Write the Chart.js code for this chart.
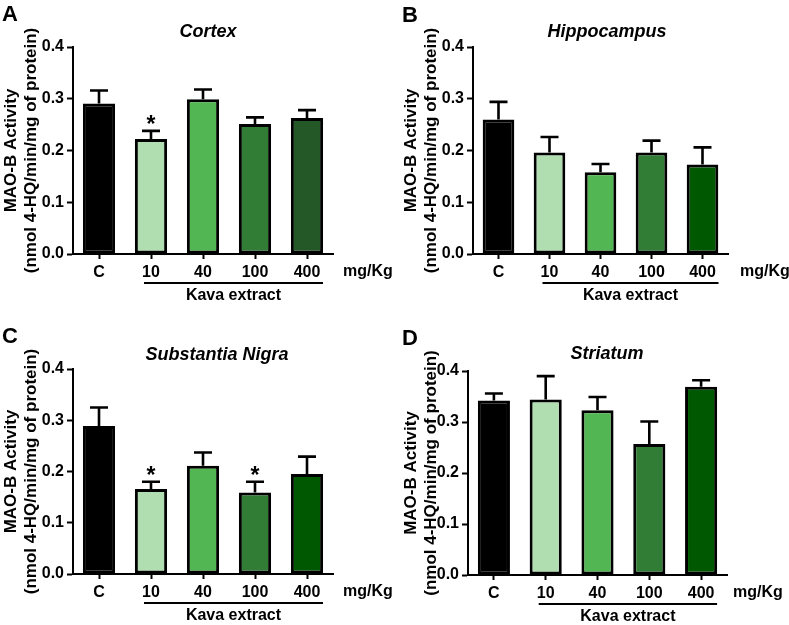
<!DOCTYPE html>
<html>
<head>
<meta charset="utf-8">
<script src="https://cdn.jsdelivr.net/npm/chart.js@4"></script>
<style>
  html, body { margin: 0; padding: 0; background: #fff; }
  body { width: 789px; height: 625px; position: relative; overflow: hidden; }
  canvas { position: absolute; }
</style>
</head>
<body>
<canvas id="cA" width="395" height="311"></canvas>
<canvas id="cB" width="389" height="311"></canvas>
<canvas id="cC" width="395" height="313"></canvas>
<canvas id="cD" width="389" height="313"></canvas>
<script>
// ---- data ----
const categories = ['C', '10', '40', '100', '400'];
const yTickValues = [0.0, 0.1, 0.2, 0.3, 0.4];

const cortexMeans = [0.291, 0.222, 0.299, 0.251, 0.263];
const cortexSEM   = [0.025, 0.016, 0.019, 0.013, 0.015];
const cortexSig   = [false, true, false, false, false];

const hippoMeans  = [0.260, 0.196, 0.158, 0.196, 0.173];
const hippoSEM    = [0.034, 0.030, 0.016, 0.023, 0.033];
const hippoSig    = [false, false, false, false, false];

const nigraMeans  = [0.289, 0.166, 0.211, 0.159, 0.195];
const nigraSEM    = [0.036, 0.014, 0.026, 0.021, 0.034];
const nigraSig    = [false, true, false, true, false];

const striatumMeans = [0.342, 0.344, 0.323, 0.257, 0.369];
const striatumSEM   = [0.014, 0.046, 0.026, 0.044, 0.013];
const striatumSig   = [false, false, false, false, false];

// ---- styles ----
const coloursA = ['#000000', '#b0deb0', '#52b752', '#327d36', '#245826'];
const coloursB = ['#000000', '#b0deb0', '#52b752', '#327d36', '#005800'];

const FONT = '"Liberation Sans", Arial, Helvetica, sans-serif';
Chart.defaults.font.family = FONT;
Chart.defaults.color = '#000';

const panels = [
  { id: 'cA', x: 0,   y: 0,   w: 395, h: 311, L: 73, T: 47, R: 62, B: 57, letter: 'A', letterY: 21, title: 'Cortex', titleX: 208, titleY: 32,
    means: cortexMeans, sem: cortexSEM, sig: cortexSig, colours: coloursA, mgOff: 10 },
  { id: 'cB', x: 400, y: 0,   w: 389, h: 311, L: 73, T: 47, R: 61, B: 57, letter: 'B', letterY: 22, title: 'Hippocampus', titleX: 207, titleY: 32,
    means: hippoMeans, sem: hippoSEM, sig: hippoSig, colours: coloursB, mgOff: 12 },
  { id: 'cC', x: 0,   y: 312, w: 395, h: 313, L: 73, T: 57, R: 62, B: 51, letter: 'C', letterY: 31, title: 'Substantia Nigra', titleX: 217, titleY: 43,
    means: nigraMeans, sem: nigraSEM, sig: nigraSig, colours: coloursB, mgOff: 10 },
  { id: 'cD', x: 400, y: 312, w: 389, h: 313, L: 68, T: 59, R: 62, B: 50, letter: 'D', letterY: 33, title: 'Striatum', titleX: 207, titleY: 42,
    means: striatumMeans, sem: striatumSEM, sig: striatumSig, colours: coloursB, mgOff: 6 }
];

const annotPlugin = {
  id: 'annot',
  afterDatasetsDraw(chart, args, opts) {
    const ctx = chart.ctx;
    const p = opts.panel;
    const meta = chart.getDatasetMeta(0);
    const ys = chart.scales.y;
    ctx.save();
    ctx.strokeStyle = '#000';
    ctx.lineWidth = 2.6;
    ctx.lineCap = 'butt';
    meta.data.forEach((bar, i) => {
      const top = ys.getPixelForValue(p.means[i]);
      const errTop = ys.getPixelForValue(p.means[i] + p.sem[i]);
      ctx.beginPath();
      ctx.moveTo(bar.x, top);
      ctx.lineTo(bar.x, errTop);
      ctx.moveTo(bar.x - 9, errTop);
      ctx.lineTo(bar.x + 9, errTop);
      ctx.stroke();
      if (p.sig[i]) {
        ctx.fillStyle = '#000';
        ctx.font = 'bold 23px ' + FONT;
        ctx.textAlign = 'center';
        ctx.textBaseline = 'alphabetic';
        ctx.fillText('*', bar.x, errTop + 1);
      }
    });
    ctx.restore();
  },
  afterDraw(chart, args, opts) {
    const ctx = chart.ctx;
    const p = opts.panel;
    const xs = chart.scales.x;
    const ca = chart.chartArea;
    ctx.save();
    ctx.fillStyle = '#000';
    ctx.font = 'bold 22px ' + FONT;
    ctx.textAlign = 'left';
    ctx.textBaseline = 'alphabetic';
    ctx.fillText(p.letter, 2, p.letterY);
    ctx.font = 'italic bold 18px ' + FONT;
    ctx.textAlign = 'center';
    ctx.textBaseline = 'middle';
    ctx.fillText(p.title, p.titleX, p.titleY);
    ctx.font = 'bold 16px ' + FONT;
    ctx.textAlign = 'left';
    ctx.fillText('mg/Kg', ca.right + p.mgOff, ca.bottom + 18);
    const x1 = xs.getPixelForValue(1) - 7;
    const x2 = xs.getPixelForValue(4) + 16;
    ctx.strokeStyle = '#000';
    ctx.lineWidth = 2.2;
    ctx.beginPath();
    ctx.moveTo(x1, ca.bottom + 29);
    ctx.lineTo(x2, ca.bottom + 29);
    ctx.stroke();
    ctx.textAlign = 'center';
    ctx.fillText('Kava extract', (x1 + x2) / 2, ca.bottom + 42);
    ctx.restore();
  }
};

panels.forEach(p => {
  const cv = document.getElementById(p.id);
  cv.style.left = p.x + 'px';
  cv.style.top = p.y + 'px';
  cv.style.width = p.w + 'px';
  cv.style.height = p.h + 'px';
  new Chart(cv, {
    type: 'bar',
    data: {
      labels: categories,
      datasets: [{
        data: p.means,
        backgroundColor: p.colours,
        borderColor: '#000',
        borderWidth: 3,
        borderSkipped: false,
        barPercentage: 0.62,
        categoryPercentage: 1.0
      }]
    },
    options: {
      responsive: false,
      animation: false,
      devicePixelRatio: 1,
      layout: { padding: { left: 0, top: p.T, right: p.R, bottom: 0 } },
      plugins: {
        legend: { display: false },
        tooltip: { enabled: false },
        title: { display: false },
        annot: { panel: p }
      },
      scales: {
        x: {
          grid: { display: true, drawOnChartArea: false, drawTicks: true, tickLength: 5, tickWidth: 2, tickColor: '#000', offset: false },
          border: { display: true, color: '#000', width: 2 },
          ticks: { color: '#000', font: { size: 16, weight: 'bold' }, padding: 4, maxRotation: 0 },
          afterFit(scale) { scale.height = p.B; }
        },
        y: {
          min: 0, max: 0.4,
          afterBuildTicks(scale) { scale.ticks = yTickValues.map(v => ({ value: v })); },
          grid: { display: true, drawOnChartArea: false, drawTicks: true, tickLength: 6, tickWidth: 2, tickColor: '#000' },
          border: { display: true, color: '#000', width: 2 },
          ticks: { color: '#000', font: { size: 16, weight: 'bold' }, padding: 3, callback: v => Number(v).toFixed(1) },
          title: {
            display: true,
            text: ['MAO-B Activity', '(nmol 4-HQ/min/mg of protein)'],
            color: '#000',
            font: { size: 17, weight: 'bold', lineHeight: 1.2 },
            padding: { top: 1, bottom: 0 }
          },
          afterFit(scale) { scale.width = p.L; }
        }
      }
    },
    plugins: [annotPlugin]
  });
});
</script>
</body>
</html>
